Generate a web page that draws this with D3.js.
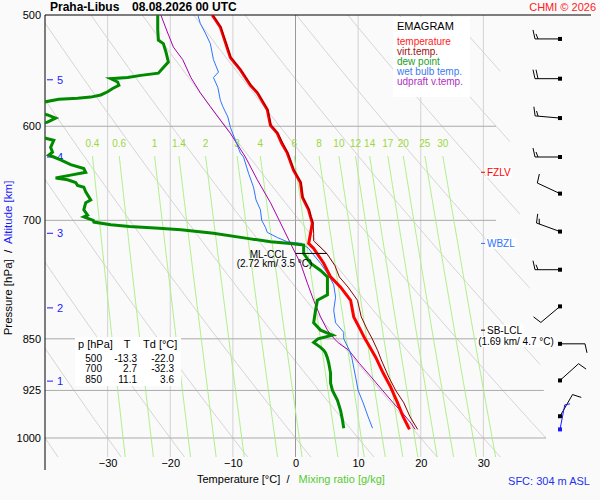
<!DOCTYPE html>
<html>
<head>
<meta charset="utf-8">
<script src="https://cdn.jsdelivr.net/npm/d3@7"></script>
<style>
  body { margin: 0; background: #fafafa; }
  svg { display: block; font-family: Arial, "Liberation Sans", sans-serif; }
</style>
</head>
<body>
<div id="chart"></div>
<script>
// sounding: pressure [hPa] and temperature [°C]
var tempP = [500, 510, 536, 547, 561, 568, 584, 599, 607, 617, 627, 645, 658, 674, 688, 696, 703, 715, 727, 733, 751, 768, 781, 798, 820, 838, 850, 856, 876, 899, 920, 944, 966, 986];
var tempT = [-13.3, -12.0, -10.4, -8.8, -7.2, -6.1, -4.5, -4.0, -2.9, -2.2, -1.3, -0.3, 0.8, 1.1, 2.1, 2.4, 2.7, 2.4, 2.1, 2.9, 4.5, 5.6, 7.2, 8.8, 9.3, 10.4, 11.1, 11.5, 12.8, 14.0, 15.2, 16.3, 17.2, 18.2];

var virtP = [500, 510, 536, 547, 561, 568, 584, 599, 607, 627, 645, 658, 674, 688, 696, 703, 715, 724, 739, 754, 768, 781, 798, 820, 838, 849, 866, 880, 905, 925, 944, 966, 986];
var virtT = [-13.2, -11.9, -10.3, -8.7, -7.1, -6.0, -4.4, -3.9, -2.8, -1.2, -0.2, 0.9, 1.2, 2.2, 2.5, 2.8, 2.9, 2.9, 5.0, 6.3, 7.0, 8.4, 9.9, 10.5, 11.5, 12.2, 13.1, 13.7, 14.9, 16.0, 17.3, 18.3, 19.5];

var dewP = [500, 512, 521, 524, 531, 540, 545, 550, 552, 554, 555, 558, 561, 564, 567, 570, 572, 573, 574, 581, 589, 592, 596, 604, 614, 621, 626, 629, 631, 634, 639, 643, 647, 650, 653, 655, 658, 661, 663, 668, 677, 680, 688, 694, 696, 700, 702, 705, 707, 709, 711, 715, 721, 725, 727, 729, 739, 751, 760, 768, 791, 798, 811, 828, 838, 845, 850, 855, 862, 866, 870, 877, 884, 899, 914, 925, 940, 956, 971, 984];
var dewT = [-22.0, -22.0, -21.9, -21.1, -20.7, -20.3, -21.1, -21.9, -24.7, -26.8, -29.5, -28.4, -28.2, -29.2, -30.0, -31.1, -32.7, -34.8, -37.8, -44.0, -39.6, -38.3, -39.6, -45.0, -38.6, -39.1, -38.8, -39.4, -38.6, -37.5, -35.9, -33.8, -33.5, -35.9, -38.3, -36.4, -35.1, -34.8, -33.8, -33.5, -32.7, -33.5, -33.8, -33.2, -33.8, -32.3, -32.2, -29.5, -26.5, -21.8, -18.3, -13.1, -7.7, -4.0, -0.8, 1.3, 1.3, 2.4, 4.0, 5.1, 5.1, 3.5, 3.2, 2.9, 4.0, 5.9, 3.6, 2.9, 4.0, 4.5, 4.8, 5.1, 5.3, 5.6, 5.6, 5.9, 6.7, 7.2, 7.5, 7.7];

var wetP = [500, 507, 515, 524, 538, 549, 554, 563, 575, 581, 591, 601, 614, 627, 631, 648, 663, 677, 688, 700, 708, 714, 720, 725, 727, 733, 739, 751, 766, 778, 794, 811, 828, 841, 850, 866, 877, 905, 925, 944, 966, 984];
var wetT = [-15.6, -15.2, -14.4, -13.6, -13.1, -12.3, -13.1, -12.4, -12.0, -11.6, -10.8, -10.4, -9.6, -8.8, -8.3, -7.5, -6.7, -6.3, -5.6, -5.4, -4.8, -4.5, -2.9, -1.3, 1.0, 2.1, 2.7, 4.0, 5.3, 6.1, 6.4, 6.1, 6.4, 7.7, 7.7, 8.6, 9.0, 9.6, 10.0, 10.8, 11.6, 12.3];

var updP = [500, 515, 527, 538, 554, 568, 581, 594, 607, 631, 655, 680, 700, 727, 751, 776, 798, 820, 838, 850, 856, 866, 885, 905, 925, 944, 960, 974, 986];
var updT = [-21.5, -20.4, -19.5, -18.0, -16.7, -15.2, -13.6, -12.0, -10.4, -8.0, -6.1, -4.0, -2.6, -0.8, 0.8, 1.9, 2.9, 4.0, 5.1, 6.2, 6.9, 8.5, 10.2, 12.1, 13.9, 15.6, 17.1, 18.3, 19.1];

// axes and reference lines
var pLabels = [500, 600, 700, 850, 925, 1000];
var tLabels = [-30, -20, -10, 0, 10, 20, 30];
var mixRatios = [0.4, 0.6, 1, 1.4, 2, 3, 4, 6, 8, 10, 12, 14, 17, 20, 25, 30];
var mixLabels = ["0.4", "0.6", "1", "1.4", "2", "3", "4", "6", "8", "10", "12", "14", "17", "20", "25", "30"];
var altKm = [1, 2, 3, 4, 5];
var altP = [911, 808, 715, 631, 556];

// wind barbs: pressure, direction [deg], speed [kt]
var windP = [520, 555, 592, 631, 670, 713, 759, 806, 857, 910, 965];
var windDir = [270, 270, 275, 270, 295, 290, 270, 230, 90, 48, 30];
var windSpd = [15, 20, 15, 15, 10, 15, 15, 10, 10, 10, 10];
var sfcP = 986, sfcDir = 11, sfcSpd = 5;

// table
var tableP = ["500", "700", "850"];
var tableT = ["-13.3", "2.7", "11.1"];
var tableTd = ["-22.0", "-32.3", "3.6"];

var width = 600, height = 500;
var svg = d3.select("#chart").append("svg").attr("width", width).attr("height", height);
svg.append("rect").attr("width", width).attr("height", height).attr("fill", "#fafafa");

var x = d3.scaleLinear().domain([-40, 40]).range([45, 546]);
var y = d3.scaleLog().domain([500, 1000]).range([15, 438]);
var pBot = y.invert(457);

var defs = svg.append("defs");
defs.append("clipPath").attr("id", "bgclip").append("polygon")
  .attr("points", [[x(-40), y(500)], [x(31.5), y(500)], [x(40), y(950)], [x(40), y(pBot)], [x(-40), y(pBot)]]
    .map(d => d.join(",")).join(" "));
defs.append("clipPath").attr("id", "plotclip").append("rect")
  .attr("x", x(-40)).attr("y", y(500)).attr("width", x(40) - x(-40)).attr("height", y(pBot) - y(500));

var line = d3.line().x(d => x(d[1])).y(d => y(d[0]));
function zip(a, b) { return a.map((v, i) => [v, b[i]]); }

var bg = svg.append("g").attr("clip-path", "url(#bgclip)");

// dry adiabats
var presSteps = d3.range(480, 1046, 5);
d3.range(-40, 131, 10).forEach(th => {
  var pts = presSteps.map(p => [p, (th + 273.15) * Math.pow(p / 1000, 0.2857) - 273.15]);
  bg.append("path").attr("d", line(pts)).attr("fill", "none").attr("stroke", "#d4d4d4").attr("stroke-width", 1);
});

// isotherms
tLabels.forEach(t => {
  bg.append("line").attr("x1", x(t)).attr("x2", x(t)).attr("y1", y(500)).attr("y2", y(pBot))
    .attr("stroke", t == 0 ? "#999" : "#d2d2d2").attr("stroke-width", 1);
});

// isobars
pLabels.slice(1).forEach(p => {
  bg.append("line").attr("x1", x(-40)).attr("x2", p < 800 ? x(32) : x(40)).attr("y1", y(p)).attr("y2", y(p))
    .attr("stroke", "#aaa").attr("stroke-width", 1);
});

// mixing ratio lines
function dewFromMix(w, p) {
  var e = w * p / (622 + w);
  var l = Math.log(e / 6.112);
  return 243.5 * l / (17.67 - l);
}
var mixSteps = d3.range(630, 1046, 5);
mixRatios.forEach((w, i) => {
  var pts = mixSteps.map(p => [p, dewFromMix(w, p)]);
  bg.append("path").attr("d", line(pts)).attr("fill", "none").attr("stroke", "#aef08a").attr("stroke-width", 1);
  svg.append("text").attr("x", x(dewFromMix(w, 630))).attr("y", 146.5).attr("text-anchor", "middle")
    .attr("font-size", 10).attr("fill", "#9ad83c").text(mixLabels[i]);
});

// frame
svg.append("line").attr("x1", x(-40)).attr("x2", 591).attr("y1", y(500)).attr("y2", y(500)).attr("stroke", "#000");
svg.append("line").attr("x1", x(-40)).attr("x2", x(-40)).attr("y1", y(500)).attr("y2", 470).attr("stroke", "#000");

// axes
var yAxis = svg.append("g").attr("transform", "translate(" + x(-40) + ",0)")
  .call(d3.axisLeft(y).tickValues(pLabels).tickFormat(d3.format("d")).tickSize(0).tickPadding(4));
yAxis.select(".domain").remove();
yAxis.selectAll("text").attr("font-size", 11).attr("font-family", "Arial, 'Liberation Sans', sans-serif").attr("fill", "#000");

var xAxis = svg.append("g").attr("transform", "translate(0,455)")
  .call(d3.axisBottom(x).tickValues(tLabels).tickSize(0).tickPadding(4));
xAxis.select(".domain").remove();
xAxis.selectAll("text").attr("font-size", 11).attr("font-family", "Arial, 'Liberation Sans', sans-serif").attr("fill", "#000");

// altitude ticks
altKm.forEach((k, i) => {
  svg.append("line").attr("x1", 47).attr("x2", 53).attr("y1", y(altP[i])).attr("y2", y(altP[i]))
    .attr("stroke", "#1a1aff");
  svg.append("text").attr("x", 57).attr("y", y(altP[i]) + 4).attr("font-size", 11).attr("fill", "#1a1aff").text(k);
});

// curves
var curves = svg.append("g").attr("clip-path", "url(#plotclip)");
curves.append("path").attr("d", line(zip(updP, updT))).attr("fill", "none").attr("stroke", "#aa00aa").attr("stroke-width", 1);
curves.append("path").attr("d", line(zip(wetP, wetT))).attr("fill", "none").attr("stroke", "#2b74ff").attr("stroke-width", 1);
curves.append("path").attr("d", line(zip(dewP, dewT))).attr("fill", "none").attr("stroke", "#008a00").attr("stroke-width", 3);
curves.append("path").attr("d", line(zip(tempP, tempT))).attr("fill", "none").attr("stroke", "#ff0000").attr("stroke-width", 3);
curves.append("path").attr("d", line(zip(virtP, virtT))).attr("fill", "none").attr("stroke", "#8b0000").attr("stroke-width", 1);

// helper for text with white box
function boxedText(g, tx, ty, txt, col, size, anchor) {
  var t = g.append("text").attr("x", tx).attr("y", ty).attr("font-size", size).attr("fill", col)
    .attr("text-anchor", anchor || "start").text(txt);
  var b = t.node().getBBox();
  g.insert("rect", function () { return t.node(); })
    .attr("x", b.x - 1).attr("y", b.y).attr("width", b.width + 2).attr("height", b.height).attr("fill", "#fff");
  return t;
}

// levels
var lab = svg.append("g");
lab.append("line").attr("x1", 481).attr("x2", 485).attr("y1", y(647)).attr("y2", y(647)).attr("stroke", "#ff0000");
boxedText(lab, 487, y(647) + 3.5, "FZLV", "#ff0000", 10);
lab.append("line").attr("x1", 481).attr("x2", 485).attr("y1", y(727)).attr("y2", y(727)).attr("stroke", "#2b74ff");
boxedText(lab, 487, y(727) + 3.5, "WBZL", "#2b74ff", 10);
lab.append("line").attr("x1", 481).attr("x2", 485).attr("y1", y(838)).attr("y2", y(838)).attr("stroke", "#000");
boxedText(lab, 487, y(838) + 3.5, "SB-LCL", "#000", 10);
boxedText(lab, 516, y(838) + 15, "(1.69 km/ 4.7 °C)", "#000", 10, "middle");

lab.append("line").attr("x1", x(0)).attr("x2", x(5)).attr("y1", y(739)).attr("y2", y(739)).attr("stroke", "#000");
lab.append("text").attr("x", 287).attr("y", y(739) + 4.5).attr("text-anchor", "end").attr("font-size", 10).text("ML-CCL");
lab.append("text").attr("x", 274.5).attr("y", y(739) + 14).attr("text-anchor", "middle").attr("font-size", 10).text("(2.72 km/ 3.5 °C)");

// table
var tab = svg.append("g");
tab.append("rect").attr("x", 75).attr("y", 337).attr("width", 106).attr("height", 49).attr("fill", "#fff");
tab.append("text").attr("x", 78).attr("y", 348).attr("font-size", 11).text("p [hPa]");
tab.append("text").attr("x", 127).attr("y", 348).attr("font-size", 11).attr("text-anchor", "middle").text("T");
tab.append("text").attr("x", 143).attr("y", 348).attr("font-size", 11).text("Td [°C]");
tableP.forEach((p, i) => {
  var ty = 361.5 + i * 10.5;
  tab.append("text").attr("x", 102).attr("y", ty).attr("font-size", 10).attr("text-anchor", "end").text(p);
  tab.append("text").attr("x", 137).attr("y", ty).attr("font-size", 10).attr("text-anchor", "end").text(tableT[i]);
  tab.append("text").attr("x", 174).attr("y", ty).attr("font-size", 10).attr("text-anchor", "end").text(tableTd[i]);
});

// legend
var leg = svg.append("g");
leg.append("rect").attr("x", 393).attr("y", 17).attr("width", 77).attr("height", 80).attr("fill", "#fff");
leg.append("text").attr("x", 397).attr("y", 30).attr("font-size", 11).text("EMAGRAM");
var legNames = ["temperature", "virt.temp.", "dew point", "wet bulb temp.", "udpraft v.temp."];
var legColors = ["#ff1a1a", "#a01010", "#22a022", "#3a7bf0", "#b030c0"];
legNames.forEach((n, i) => {
  leg.append("text").attr("x", 397).attr("y", 45 + i * 10).attr("font-size", 10).attr("fill", legColors[i]).text(n);
});

// wind barbs
function barb(g, bx, by, dir, spd, col) {
  var r = dir * Math.PI / 180;
  var ux = Math.sin(r), uy = -Math.cos(r);
  var px = Math.cos(r), py = Math.sin(r);
  var ex = bx + ux * 25, ey = by + uy * 25;
  g.append("line").attr("x1", bx).attr("y1", by).attr("x2", ex).attr("y2", ey).attr("stroke", col);
  var full = Math.floor(spd / 10), half = spd % 10 >= 5 ? 1 : 0;
  var pos = 0;
  for (var i = 0; i < full + half; i++) {
    var L = i < full ? 9 : 5;
    var sx = ex - ux * pos, sy = ey - uy * pos;
    g.append("line").attr("x1", sx).attr("y1", sy)
      .attr("x2", sx + px * L + ux * 2).attr("y2", sy + py * L + uy * 2).attr("stroke", col);
    pos += 3;
  }
  g.append("rect").attr("x", bx - 2).attr("y", by - 2).attr("width", 4).attr("height", 4).attr("fill", col);
}
var barbs = svg.append("g");
windP.forEach((p, i) => barb(barbs, 560, y(p), windDir[i], windSpd[i], "#000"));
barb(barbs, 560, y(sfcP), sfcDir, sfcSpd, "#1a1aff");

// titles
svg.append("text").attr("x", 50).attr("y", 11).attr("font-size", 12).attr("font-weight", "bold").text("Praha-Libus");
svg.append("text").attr("x", 132).attr("y", 11).attr("font-size", 12).attr("font-weight", "bold").text("08.08.2026 00 UTC");
svg.append("text").attr("x", 596).attr("y", 11).attr("font-size", 11).attr("text-anchor", "end").attr("fill", "#ff2020").text("CHMI © 2026");

var yl = svg.append("text").attr("transform", "translate(12,258) rotate(-90)").attr("text-anchor", "middle").attr("font-size", 11.5);
yl.append("tspan").attr("fill", "#000").text("Pressure [hPa]  /  ");
yl.append("tspan").attr("fill", "#1a1aff").text("Altitude [km]");
yl.attr("xml:space", "preserve").style("white-space", "pre");

var xl = svg.append("text").attr("x", 197).attr("y", 483).attr("font-size", 11).style("white-space", "pre");
xl.append("tspan").attr("fill", "#000").text("Temperature [°C]  /   ");
xl.append("tspan").attr("fill", "#55cc33").text("Mixing ratio [g/kg]");

svg.append("text").attr("x", 590).attr("y", 485).attr("text-anchor", "end").attr("font-size", 11).attr("fill", "#2233ee").text("SFC: 304 m ASL");
</script>
</body>
</html>
